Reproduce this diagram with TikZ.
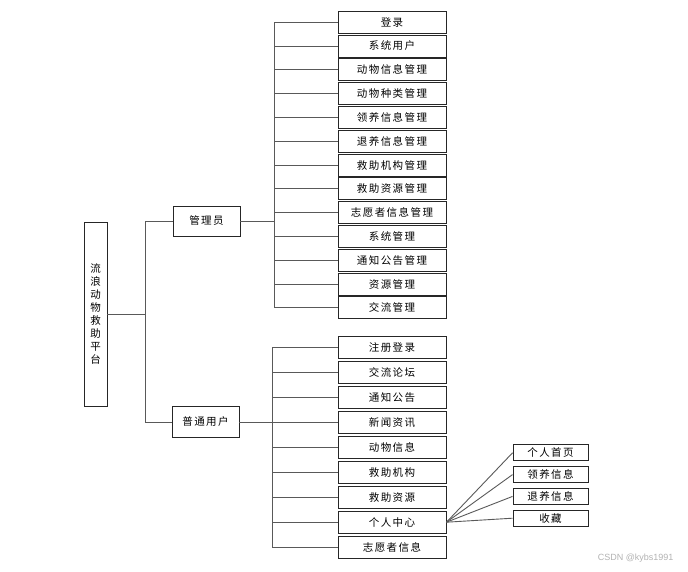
\documentclass[tikz,border=0pt]{standalone}
\usepackage{fontspec}
\usepackage{tikz}
\usetikzlibrary{positioning, matrix}
\newfontfamily\cjk[LetterSpace=14]{Noto Sans CJK SC}
\newfontfamily\wmfont{Liberation Sans}

\begin{document}
\begin{tikzpicture}[
    x=1pt, y=-1pt,
    box/.style={draw=black!85, line width=0.9pt, inner sep=0, font=\cjk\fontsize{10.5}{12}\selectfont},
    leaf/.style={box, minimum width=108pt, minimum height=22pt},
    col/.style={matrix of nodes, row sep=0.9pt, nodes={leaf}},
    link/.style={draw=black!65, line width=0.9pt}
  ]
  \useasboundingbox (0,0) rectangle (688,572);

  \node[box, minimum width=23pt, minimum height=184pt, align=center,
        font=\cjk\fontsize{10.5}{12.9}\selectfont] (root) at (95.5,314)
        {流\\浪\\动\\物\\救\\助\\平\\台};

  \node[box, minimum width=67pt, minimum height=30pt] (admin) at (206.5,221) {管理员};
  \node[box, minimum width=67pt, minimum height=31pt] (user) at (205.5,422) {普通用户};

  % admin functions
  \matrix (adm) [col] at (392,165) {
    登录 \\
    系统用户 \\
    动物信息管理 \\
    动物种类管理 \\
    领养信息管理 \\
    退养信息管理 \\
    救助机构管理 \\
    救助资源管理 \\
    志愿者信息管理 \\
    系统管理 \\
    通知公告管理 \\
    资源管理 \\
    交流管理 \\
  };

  % user functions
  \matrix (usr) [col, row sep=2pt] at (392,447.5) {
    注册登录 \\
    交流论坛 \\
    通知公告 \\
    新闻资讯 \\
    动物信息 \\
    救助机构 \\
    救助资源 \\
    个人中心 \\
    志愿者信息 \\
  };

  % personal center
  \matrix (own) [col, row sep=4.9pt, nodes={minimum width=75pt, minimum height=16pt}] at (550.5,485.5) {
    个人首页 \\
    领养信息 \\
    退养信息 \\
    收藏 \\
  };

  \draw[link] (root.east) -- ++(38,0) coordinate (rb);
  \draw[link] (admin.west) -| (rb) |- (user.west);

  \coordinate[right=34pt of admin.east] (ab);
  \draw[link] (admin.east) -- (ab);
  \draw[link] (ab |- adm-1-1.west) -- (ab |- adm-13-1.west);
  \foreach \i in {1,...,13}
    \draw[link] (ab |- adm-\i-1.west) -- (adm-\i-1.west);

  \coordinate[right=33pt of user.east] (ub);
  \draw[link] (user.east) -- (ub);
  \draw[link] (ub |- usr-1-1.west) -- (ub |- usr-9-1.west);
  \foreach \i in {1,...,9}
    \draw[link] (ub |- usr-\i-1.west) -- (usr-\i-1.west);

  \foreach \i in {1,...,4}
    \draw[link] (usr-8-1.east) -- (own-\i-1.west);

  \node[text=black!30, font=\wmfont\fontsize{9}{10}\selectfont, anchor=east] (wm) at (677,558) {CSDN @kybs1991};

\end{tikzpicture}
\end{document}
